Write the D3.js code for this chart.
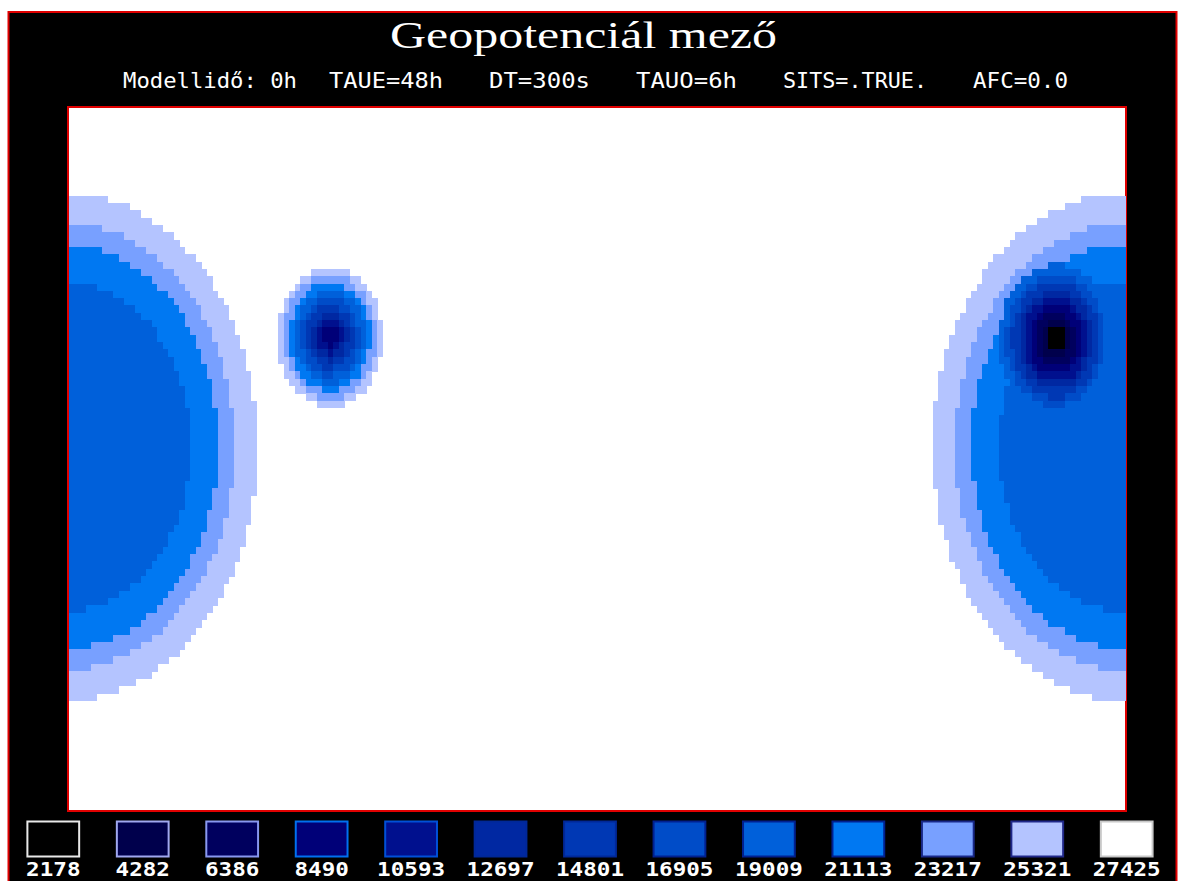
<!DOCTYPE html>
<html>
<head>
<meta charset="utf-8">
<script src="https://cdn.jsdelivr.net/npm/d3@7"></script>
<style>
  html, body { margin: 0; padding: 0; background: #fff; }
  svg { display: block; }
</style>
</head>
<body>
<svg id="chart" width="1179" height="881"></svg>
<script>
// legend levels (geopotential) and their colours
const levels = [2178, 4282, 6386, 8490, 10593, 12697, 14801, 16905, 19009, 21113, 23217, 25321, 27425];
const levelColors = ['#000000', '#00004c', '#00005e', '#000078', '#00108e', '#0028a2', '#0038b4',
  '#004cc8', '#0060da', '#0078f2', '#78a0ff', '#b4c4ff', '#ffffff'];
const boxBorders = ['#e8e8e8', '#a0a8f0', '#8898f0', '#0070f0', '#0050d8', '#002898', '#002898',
  '#002090', '#002090', '#002090', '#182888', '#202888', '#c8c8c8'];

const title = 'Geopotenciál mező';
const subtitleParts = ['Modellidő: 0h', 'TAUE=48h', 'DT=300s', 'TAUO=6h', 'SITS=.TRUE.', 'AFC=0.0'];

// model grid
const nx = 192;
const ny = 96;

// lows: centre (grid units), level of the outermost ring,
// and ring radii from that level downwards
const lowNames = ['big', 'west', 'east'];
const lowX = [-0.45, 47.4, 179.3];
const lowY = [46.3, 31.3, 31.7];
const lowTopLevel = [12, 12, 9];
const bigRadii = [34.6, 30.5, 27.5, 22.5];
const westRadii = [9.5, 8.5, 7.4, 6.4, 5.3, 4.3, 3.3, 2.3, 1.4];
const eastRadii = [10.3, 9.0, 7.9, 6.8, 5.8, 4.8, 3.8, 2.8, 1.8];
const lowRadii = [bigRadii, westRadii, eastRadii];

const svg = d3.select('#chart');
const W = 1179;

// outer frame
svg.append('rect')
  .attr('x', 8.5).attr('y', 12)
  .attr('width', 1168).attr('height', 900)
  .attr('fill', '#000')
  .attr('stroke', '#e00000')
  .attr('stroke-width', 2);

// titles
svg.append('text')
  .attr('x', W / 2 - 6).attr('y', 48)
  .attr('text-anchor', 'middle')
  .attr('fill', '#fff')
  .attr('font-family', 'Liberation Serif, serif')
  .attr('font-size', 38)
  .attr('textLength', 387)
  .attr('lengthAdjust', 'spacingAndGlyphs')
  .text(title);

const subX = [123, 329, 489, 636, 783, 973];
const subW = [174, 114, 101, 101, 144, 95];
svg.append('g')
  .selectAll('text')
  .data(subtitleParts)
  .join('text')
  .attr('x', (_, i) => subX[i])
  .attr('y', 88)
  .attr('fill', '#fff')
  .attr('font-family', 'DejaVu Sans Mono, monospace')
  .attr('font-size', 21)
  .attr('textLength', (_, i) => subW[i])
  .attr('lengthAdjust', 'spacingAndGlyphs')
  .text((d) => d);

// plot area
const x = d3.scaleLinear().domain([0, nx]).range([69, 1125]);
const y = d3.scaleLinear().domain([0, ny]).range([108, 810]);
const color = d3.scaleOrdinal().domain(d3.range(levels.length)).range(levelColors);

svg.append('rect')
  .attr('x', 68).attr('y', 107)
  .attr('width', 1058).attr('height', 704)
  .attr('fill', '#fff')
  .attr('stroke', '#e00000')
  .attr('stroke-width', 2);

// classify every grid cell by the rings that contain it
const cells = [];
for (let j = 0; j < ny; j++) {
  for (let i = 0; i < nx; i++) {
    const px = i + 0.5;
    const py = j + 0.5;
    let cls = levels.length - 1;
    lowNames.forEach((_, k) => {
      let dx = Math.abs(px - lowX[k]);
      dx = Math.min(dx, nx - dx); // periodic in x
      const dy = py - lowY[k];
      const d = Math.sqrt(dx * dx + dy * dy);
      lowRadii[k].forEach((r, m) => {
        if (d < r) cls = Math.min(cls, lowTopLevel[k] - m - 1);
      });
    });
    if (cls < levels.length - 1) cells.push({ i, j, cls });
  }
}

svg.append('g')
  .attr('shape-rendering', 'crispEdges')
  .selectAll('rect')
  .data(cells)
  .join('rect')
  .attr('x', (d) => x(d.i))
  .attr('y', (d) => y(d.j))
  .attr('width', x(1) - x(0) + 0.5)
  .attr('height', y(1) - y(0) + 0.5)
  .attr('fill', (d) => color(d.cls));

// legend
const legendX = d3.scaleBand()
  .domain(d3.range(levels.length))
  .range([9, 1171])
  .paddingInner(0.41)
  .paddingOuter(0.2);

const legend = svg.append('g')
  .selectAll('g')
  .data(levels)
  .join('g')
  .attr('transform', (_, i) => `translate(${legendX(i)},0)`);

legend.append('rect')
  .attr('x', 0.5).attr('y', 821.5)
  .attr('width', legendX.bandwidth() - 1)
  .attr('height', 35)
  .attr('fill', (_, i) => levelColors[i])
  .attr('stroke', (_, i) => boxBorders[i])
  .attr('stroke-width', 2);

legend.append('text')
  .attr('x', legendX.bandwidth() / 2)
  .attr('y', 876)
  .attr('text-anchor', 'middle')
  .attr('fill', '#fff')
  .attr('font-family', 'DejaVu Sans Mono, monospace')
  .attr('font-weight', 'bold')
  .attr('font-size', 19)
  .attr('textLength', (d) => String(d).length * 13.6)
  .attr('lengthAdjust', 'spacingAndGlyphs')
  .text((d) => d);
</script>
</body>
</html>
